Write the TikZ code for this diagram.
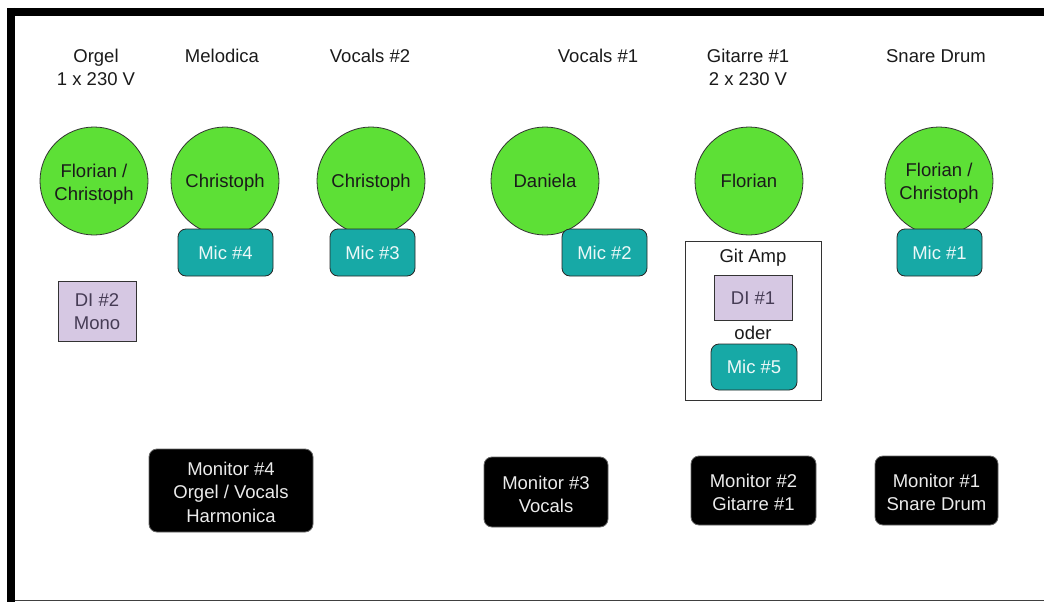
\documentclass[tikz,border=0pt]{standalone}
\usepackage{fontspec}
\setmainfont{Liberation Sans}
\definecolor{pgreen}{HTML}{5DE036}
\definecolor{micteal}{HTML}{17A9A6}
\definecolor{dilav}{HTML}{D6C8E3}
\definecolor{ditext}{HTML}{463C55}
\definecolor{txt}{HTML}{1A1A1A}
% line struts: box of 23pt per line, baseline placed as in the reference
\newcommand\stA{\rule[-5pt]{0pt}{23pt}}
\newcommand\stB{\rule[-3pt]{0pt}{23pt}}
\begin{document}
\begin{tikzpicture}[x=1pt,y=-1pt,
  every node/.style={font=\fontsize{18.5}{23}\selectfont, align=center, text=txt},
  person/.style={circle, draw=black!80, line width=0.8pt, fill=pgreen, minimum size=108pt, inner sep=0pt},
  mic/.style={rectangle, rounded corners=8pt, draw=black!85, line width=0.8pt, fill=micteal, text=white!92!micteal, minimum height=47pt, inner sep=0pt},
  dibox/.style={rectangle, draw=black!80, line width=0.8pt, fill=dilav, text=ditext, inner sep=0pt},
  monitor/.style={rectangle, rounded corners=8pt, draw=black!60, line width=0.8pt, fill=black, text=white!92!black, inner sep=0pt},
  label/.style={inner sep=0pt}
]
\useasboundingbox (0,0) rectangle (1044,602);
\fill[white] (0,0) rectangle (1044,602);
% frame
\draw[line width=8pt] (7,12) -- (1044,12);
\draw[line width=8pt] (11,8) -- (11,602);
\draw[line width=1.2pt, black!75] (15,600.5) -- (1044,600.5);

% top labels
\node[label] (lorgel) at (96,67) {Orgel\\1 x 230 V};
\node[label] (lmel) at (222,56) {Melodica};
\node[label] (lv2) at (370,56) {Vocals \#2};
\node[label] (lv1) at (598,56) {Vocals \#1};
\node[label] (lgit) at (748,67) {Gitarre \#1\\2 x 230 V};
\node[label] (lsnare) at (936,56) {Snare Drum};

% persons
\node[person] (p1) at (94,181) {\stB Florian /\\Christoph\stB};
\node[person] (p2) at (225,181) {\stA Christoph\stA};
\node[person] (p3) at (371,181) {\stA Christoph\stA};
\node[person] (p4) at (545,181) {\stA Daniela\stA};
\node[person] (p5) at (749,181) {\stA Florian\stA};
\node[person] (p6) at (939,181) {\stA Florian /\\Christoph\stA};

% mics
\node[mic, minimum width=95pt] (m4) at (225.5,252.5) {\stA Mic \#4\stA};
\node[mic, minimum width=85pt] (m3) at (372.5,252.5) {\stA Mic \#3\stA};
\node[mic, minimum width=85pt] (m2) at (604.5,252.5) {\stA Mic \#2\stA};
\node[mic, minimum width=85pt] (m1) at (939.5,252.5) {\stA Mic \#1\stA};

% DI #2
\node[dibox, minimum width=78pt, minimum height=60pt] (di2) at (97,311) {\stA DI \#2\\Mono\stA};

% Git amp group
\node[rectangle, draw=black!80, line width=0.8pt, fill=white, minimum width=136pt, minimum height=159pt, inner sep=0pt] (amp) at (753,320.5) {};
\node[label] (lamp) at (753,258) {Git Amp};
\node[dibox, minimum width=78pt, minimum height=45pt] (di1) at (753,297.5) {\stA DI \#1\stA};
\node[label] (loder) at (753,333) {oder};
\node[mic, minimum width=86pt, minimum height=46pt] (m5) at (754,367) {\stA Mic \#5\stA};

% monitors
\node[monitor, minimum width=164pt, minimum height=83pt] (mon4) at (231,490.5) {\stB Monitor \#4\\Orgel / Vocals\\Harmonica\stB};
\node[monitor, minimum width=124pt, minimum height=70pt] (mon3) at (546,492) {\stB Monitor \#3\\Vocals\stB};
\node[monitor, minimum width=125pt, minimum height=69pt] (mon2) at (753.5,490.5) {\stB Monitor \#2\\Gitarre \#1\stB};
\node[monitor, minimum width=123pt, minimum height=69pt] (mon1) at (936.5,490.5) {\stB Monitor \#1\\Snare Drum\stB};
\end{tikzpicture}
\end{document}
